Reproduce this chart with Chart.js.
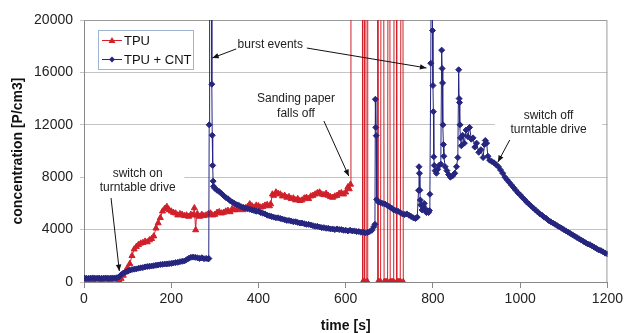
<!DOCTYPE html>
<html>
<head>
<meta charset="utf-8">
<script src="https://cdn.jsdelivr.net/npm/chart.js@4/dist/chart.umd.min.js"></script>
<style>
  html, body { margin: 0; padding: 0; background: #fff; }
  #wrap { width: 626px; height: 333px; }
</style>
</head>
<body>
<div id="wrap"><canvas id="graphe" width="626" height="333"></canvas></div>
<script>
// données (temps en s, concentration en P/cm3)
// 30000 = valeur hors échelle (pics coupés en haut du graphe)
const tTPU = [
  0,10,20,30,40,50,60,70,80,85,
  90,95,100,105,110,115,120,125,130,135,
  140,145,150,155,160,165,170,175,180,185,
  190,195,200,205,210,215,220,225,230,235,
  240,245,250,253,256,258,260,265,270,275,
  280,285,290,295,300,305,310,315,320,325,
  330,335,340,345,350,355,360,365,370,375,
  380,385,390,395,400,405,410,415,420,425,
  428,432,435,440,445,450,455,460,465,470,
  475,480,485,490,495,500,505,510,515,520,
  525,530,535,540,545,550,555,560,565,570,
  575,580,585,590,595,600,605,608,611,612,
  638,639,641,642,643,646,647,649,650,651,
  673,674,676,678,680,681,687,688,690,692,
  694,696,697,701,702,704,706,708,710,711,
  716,717,719,721,723,725,726,727,731,732
];
const vTPU = [
  150,180,140,200,160,190,150,200,170,260,
  500,800,1100,1400,2000,2500,2700,2850,2950,3000,
  3100,3050,3200,3300,3500,4100,4500,4900,5400,5600,
  5750,5500,5400,5300,5250,5100,5200,5150,5050,5100,
  5000,5150,5100,5650,3970,5100,5200,5000,5150,5050,
  5100,5200,5250,5100,5150,5300,5350,5250,5300,5400,
  5450,5350,5600,5500,5500,5650,5600,5500,5650,5750,
  5950,5800,5700,5850,5800,5700,5750,5850,5900,5800,
  5950,6700,6600,6850,6750,6700,6550,6600,6450,6500,
  6350,6400,6250,6350,6200,6250,6400,6450,6350,6550,
  6600,6700,6800,6850,6700,6650,6750,6600,6500,6450,
  6550,6600,6750,6800,6700,6850,7250,7100,7450,30000,
  30000,0,0,0,30000,30000,0,0,0,30000,
  30000,0,0,0,0,30000,30000,0,0,0,
  0,0,30000,30000,0,0,0,0,0,30000,
  30000,0,0,0,0,0,0,30000,30000,0
];

const tCNT = [
  0,5,10,15,20,25,30,35,40,45,
  50,55,60,65,70,75,80,85,90,95,
  100,105,110,115,120,125,130,135,140,145,
  150,155,160,165,170,175,180,185,190,195,
  200,205,210,215,220,225,230,235,240,245,
  250,255,260,265,270,275,280,285,286,287,
  288,292,293,294,295,296,297,300,305,310,
  315,320,325,330,335,340,345,350,355,360,
  365,370,375,380,385,390,395,400,405,410,
  415,420,425,430,435,440,445,450,455,460,
  465,470,475,480,485,490,495,500,505,510,
  515,520,525,530,535,540,545,550,555,560,
  565,570,575,580,585,590,595,600,605,610,
  615,620,625,630,635,640,645,650,655,660,
  664,667,668,669,670,671,675,680,685,690,
  695,700,705,710,715,720,725,730,735,740,
  745,750,755,760,764,767,768,769,770,771,
  772,775,778,780,782,785,788,790,792,793,
  795,797,799,800,801,802,803,805,808,811,
  814,818,820,821,822,823,824,825,828,832,
  836,840,845,850,854,857,859,860,861,862,
  863,865,868,872,876,880,884,888,892,896,
  900,905,910,915,918,920,923,926,930,935,
  940,945,950,955,960,965,970,975,980,985,
  990,995,1000,1005,1010,1015,1020,1025,1030,1035,
  1040,1045,1050,1055,1060,1065,1070,1075,1080,1085,
  1090,1095,1100,1105,1110,1115,1120,1125,1130,1135,
  1140,1145,1150,1155,1160,1165,1170,1175,1180,1185,
  1190,1195,1200
];
const vCNT = [
  300,290,280,300,310,290,290,300,280,300,
  300,290,290,310,310,320,380,550,680,750,
  820,900,950,980,1000,1050,1080,1100,1150,1180,
  1200,1220,1250,1280,1300,1330,1350,1370,1380,1400,
  1420,1450,1480,1500,1550,1580,1600,1700,1800,1880,
  1900,1880,1850,1800,1850,1780,1800,1760,1800,12000,
  30000,30000,15100,11200,8900,7700,7300,7150,7000,6900,
  6750,6600,6450,6350,6200,6100,6000,5900,5850,5750,
  5700,5650,5600,5550,5500,5450,5400,5400,5300,5250,
  5200,5100,5050,5000,4950,4900,4900,4850,4800,4750,
  4700,4700,4650,4600,4600,4550,4500,4500,4450,4400,
  4400,4350,4300,4250,4250,4200,4150,4150,4100,4100,
  4050,4050,4000,4050,4000,4000,3950,3950,3900,3950,
  3900,3900,3850,3850,3800,3800,3750,3780,3850,3950,
  4200,4400,13950,11800,11170,6300,6100,6050,6000,5950,
  5850,5750,5650,5500,5450,5400,5300,5200,5150,5200,
  5100,5000,4900,4850,4950,7000,8800,8300,7000,6260,
  5880,5500,5800,6000,5600,5300,5400,5300,5450,6700,
  16700,30000,19200,15000,13000,9560,8900,8500,8300,8600,
  8900,9000,17700,16300,15200,12000,10500,9600,8800,8500,
  8200,8000,8100,8300,8800,9500,16200,14000,13700,12000,
  11000,10400,11200,10600,11600,11100,11800,10900,11000,10300,
  10600,9900,10100,9500,10500,10800,10600,9600,9300,9200,
  9100,8950,8800,8550,8300,8000,7800,7600,7400,7200,
  7000,6800,6650,6450,6300,6100,5950,5800,5650,5500,
  5350,5200,5100,4950,4850,4700,4600,4500,4400,4300,
  4200,4100,4000,3900,3800,3700,3600,3500,3400,3300,
  3200,3100,3000,2900,2850,2750,2650,2550,2450,2400,
  2300,2200,2150
];

const rouge = '#d0202a';
const bleu = '#262680';
const police = '"Liberation Sans", Arial, sans-serif';

function toXY(ts, vs) {
  return ts.map(function(t, i) { return { x: t, y: vs[i] }; });
}

function fleche(ctx, x1, y1, x2, y2) {
  var a = Math.atan2(y2 - y1, x2 - x1);
  ctx.beginPath();
  ctx.moveTo(x1, y1);
  ctx.lineTo(x2, y2);
  ctx.stroke();
  ctx.beginPath();
  ctx.moveTo(x2, y2);
  ctx.lineTo(x2 - 7 * Math.cos(a - 0.4), y2 - 7 * Math.sin(a - 0.4));
  ctx.lineTo(x2 - 7 * Math.cos(a + 0.4), y2 - 7 * Math.sin(a + 0.4));
  ctx.closePath();
  ctx.fill();
}

// cadre, légende et annotations
const decor = {
  id: 'decor',
  beforeDatasetsDraw: function(chart) {
    var ctx = chart.ctx, a = chart.chartArea;
    var sx = chart.scales.x, sy = chart.scales.y;
    ctx.save();
    ctx.strokeStyle = '#999';
    ctx.lineWidth = 1;
    ctx.beginPath();
    ctx.moveTo(a.left, a.top + 0.5);
    ctx.lineTo(a.right - 0.5, a.top + 0.5);
    ctx.lineTo(a.right - 0.5, a.bottom);
    ctx.stroke();
    // fonds blancs des étiquettes
    ctx.fillStyle = '#fff';
    ctx.fillRect(a.left + 1, sy.getPixelForValue(8900), sx.getPixelForValue(230) - a.left - 1, sy.getPixelForValue(6300) - sy.getPixelForValue(8900));
    ctx.fillRect(sx.getPixelForValue(942), sy.getPixelForValue(13280), sx.getPixelForValue(1188) - sx.getPixelForValue(942), sy.getPixelForValue(10990) - sy.getPixelForValue(13280));
    ctx.restore();
  },
  afterDatasetsDraw: function(chart) {
    var ctx = chart.ctx;
    var sx = chart.scales.x, sy = chart.scales.y;
    function X(t) { return sx.getPixelForValue(t); }
    function Y(v) { return sy.getPixelForValue(v); }
    ctx.save();

    // légende
    ctx.fillStyle = '#fff';
    ctx.fillRect(98, 30, 95, 39);
    ctx.strokeStyle = '#9fb4d2';
    ctx.lineWidth = 1;
    ctx.strokeRect(98.5, 30.5, 95, 39);
    ctx.font = '13px ' + police;
    ctx.textBaseline = 'middle';
    ctx.textAlign = 'left';
    ctx.strokeStyle = rouge; ctx.fillStyle = rouge;
    ctx.beginPath(); ctx.moveTo(102, 40.5); ctx.lineTo(122, 40.5); ctx.stroke();
    ctx.beginPath(); ctx.moveTo(112, 37); ctx.lineTo(115.5, 43); ctx.lineTo(108.5, 43); ctx.closePath(); ctx.fill();
    ctx.strokeStyle = bleu; ctx.fillStyle = bleu;
    ctx.beginPath(); ctx.moveTo(102, 59.5); ctx.lineTo(122, 59.5); ctx.stroke();
    ctx.beginPath(); ctx.moveTo(112, 56.5); ctx.lineTo(115, 59.5); ctx.lineTo(112, 62.5); ctx.lineTo(109, 59.5); ctx.closePath(); ctx.fill();
    ctx.fillStyle = '#111';
    ctx.fillText('TPU', 124, 41);
    ctx.fillText('TPU + CNT', 124, 60);

    // annotations
    ctx.font = '12px ' + police;
    ctx.textAlign = 'center';
    ctx.fillStyle = '#222';
    ctx.fillText('burst events', X(427), Y(18090));
    ctx.fillText('Sanding paper', X(486), Y(13970));
    ctx.fillText('falls off', X(486), Y(12820));
    ctx.fillText('switch on', X(123), Y(8240));
    ctx.fillText('turntable drive', X(123), Y(7180));
    ctx.fillText('switch off', X(1065), Y(12670));
    ctx.fillText('turntable drive', X(1065), Y(11600));

    ctx.strokeStyle = '#111';
    ctx.fillStyle = '#111';
    ctx.lineWidth = 1;
    fleche(ctx, X(349), Y(17790), X(294), Y(17100));
    fleche(ctx, X(511), Y(17860), X(785), Y(16340));
    fleche(ctx, X(550), Y(12290), X(607), Y(8090));
    fleche(ctx, X(62), Y(6410), X(81), Y(840));
    fleche(ctx, X(976), Y(10840), X(949), Y(9160));
    ctx.restore();
  }
};

var ctx = document.getElementById('graphe').getContext('2d');
var monGraphe = new Chart(ctx, {
  type: 'line',
  data: {
    datasets: [{
      label: 'TPU + CNT',
      data: toXY(tCNT, vCNT),
      borderColor: bleu,
      backgroundColor: bleu,
      borderWidth: 1,
      pointStyle: 'rectRot',
      pointRadius: 3,
      pointBorderWidth: 1,
      tension: 0
    }, {
      label: 'TPU',
      data: toXY(tTPU, vTPU),
      borderColor: rouge,
      backgroundColor: rouge,
      borderWidth: 1,
      pointStyle: 'triangle',
      pointRadius: 3.5,
      pointBorderWidth: 1,
      tension: 0
    }]
  },
  options: {
    responsive: false,
    animation: false,
    devicePixelRatio: 1,
    layout: { padding: { top: 20, right: 16, left: 0, bottom: 0 } },
    plugins: { legend: { display: false }, tooltip: { enabled: false } },
    scales: {
      x: {
        type: 'linear', min: 0, max: 1200,
        ticks: { stepSize: 200, color: '#222', padding: 3, font: { family: police, size: 14 },
                 callback: function(v) { return String(v); } },
        grid: { drawOnChartArea: false, tickLength: 6, color: '#888' },
        border: { color: '#888' },
        title: { display: true, text: 'time [s]', color: '#111', padding: 0,
                 font: { family: police, size: 14, weight: 'bold', lineHeight: 1 } },
        afterFit: function(s) { s.height = 51; }
      },
      y: {
        min: 0, max: 20000,
        ticks: { stepSize: 4000, color: '#222', padding: 7, font: { family: police, size: 14 },
                 callback: function(v) { return String(v); } },
        grid: { color: '#c4c4c4', tickLength: 4 },
        border: { color: '#888' },
        title: { display: true, text: 'concentration [P/cm3]', color: '#111', padding: { top: 11, bottom: 0 },
                 font: { family: police, size: 14, weight: 'bold', lineHeight: 1 } },
        afterFit: function(s) { s.width = 84; }
      }
    }
  },
  plugins: [decor]
});
</script>
</body>
</html>
